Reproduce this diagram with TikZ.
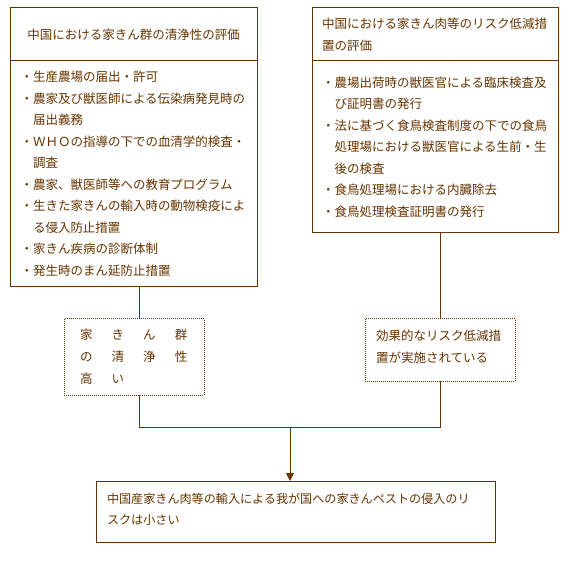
\documentclass[tikz,border=0pt]{standalone}
\usepackage{fontspec}
\setmainfont{Noto Sans CJK JP}
\definecolor{lineBrown}{HTML}{663300}
\definecolor{textBrown}{HTML}{663300}
\usepackage{tikz}
\usetikzlibrary{arrows.meta, positioning}
\usepackage{xcolor}
\newcommand{\bul}{・}
\newcommand{\ind}{\hspace*{1em}}
\newcommand{\spreadch}[1]{\makebox[31.6pt][l]{#1}}

\tikzset{
  panel/.style={draw=lineBrown, line width=1pt, inner sep=0pt, outer sep=0pt,
                anchor=north west, text=textBrown,
                font=\fontsize{12.5}{21.5}\selectfont},
  dotpanel/.style={panel, dash pattern=on 1pt off 1pt, font=\fontsize{12.5}{22}\selectfont},
  link/.style={draw=lineBrown, line width=1pt}
}

\begin{document}
\begin{tikzpicture}[x=1pt, y=-1pt]
  \useasboundingbox (0,0) rectangle (568,564);

  % left column
  \node[panel, minimum width=247pt, minimum height=53pt, align=center] (ltitle) at (10,8)
    {中国における家きん群の清浄性の評価};
  \node[panel, below=0pt of ltitle.south west, anchor=north west,
        minimum width=247pt, minimum height=226pt, inner xsep=10.5pt,
        text width=226pt, align=left] (lbody) {%
    \bul 生産農場の届出・許可\\
    \bul 農家及び獣医師による伝染病発見時の\\
    \ind 届出義務\\
    \bul ＷＨＯの指導の下での血清学的検査・\\
    \ind 調査\\
    \bul 農家、獣医師等への教育プログラム\\
    \bul 生きた家きんの輸入時の動物検疫によ\\
    \ind る侵入防止措置\\
    \bul 家きん疾病の診断体制\\
    \bul 発生時のまん延防止措置};
  \node[dotpanel, minimum width=140pt, minimum height=76pt, inner xsep=16pt,
        text width=108pt, align=left] (ldot) at (64,319) {%
    \spreadch{家}\spreadch{き}\spreadch{ん}群\\
    \spreadch{の}\spreadch{清}\spreadch{浄}性\\
    \spreadch{高}い};

  % right column
  \node[panel, minimum width=246pt, minimum height=53pt, inner xsep=10pt,
        text width=226pt, align=left] (rtitle) at (312,8) {%
    中国における家きん肉等のリスク低減措\\置の評価};
  \node[panel, below=0pt of rtitle.south west, anchor=north west,
        minimum width=246pt, minimum height=172pt, inner xsep=10pt,
        text width=226pt, align=left] (rbody) {%
    \bul 農場出荷時の獣医官による臨床検査及\\
    \ind び証明書の発行\\
    \bul 法に基づく食鳥検査制度の下での食鳥\\
    \ind 処理場における獣医官による生前・生\\
    \ind 後の検査\\
    \bul 食鳥処理場における内臓除去\\
    \bul 食鳥処理検査証明書の発行};
  \node[dotpanel, minimum width=150pt, minimum height=62pt, inner xsep=11pt,
        text width=128pt, text height=5pt, align=left] (rdot) at (365,319) {%
    効果的なリスク低減措\\置が実施されている};

  % conclusion
  \node[panel, minimum width=399pt, minimum height=61pt, inner xsep=11pt,
        text width=377pt, text height=6pt, align=left,
        font=\fontsize{12.1}{21}\selectfont] (result) at (96,481) {%
    中国産家きん肉等の輸入による我が国への家きんペストの侵入のリ\\スクは小さい};

  \coordinate (jl) at (139,427);
  \coordinate (jr) at (440,427);
  \coordinate (jm) at (290,427);

  \draw[link] (jl |- lbody.south) -- (jl |- ldot.north);
  \draw[link] (jr |- rbody.south) -- (jr |- rdot.north);
  \draw[link] (jl |- ldot.south) -- (jl) -- (jr) -- (jr |- rdot.south);
  \draw[link, -{Triangle[length=8pt, width=8pt]}] (jm) -- (jm |- result.north);
\end{tikzpicture}
\end{document}
